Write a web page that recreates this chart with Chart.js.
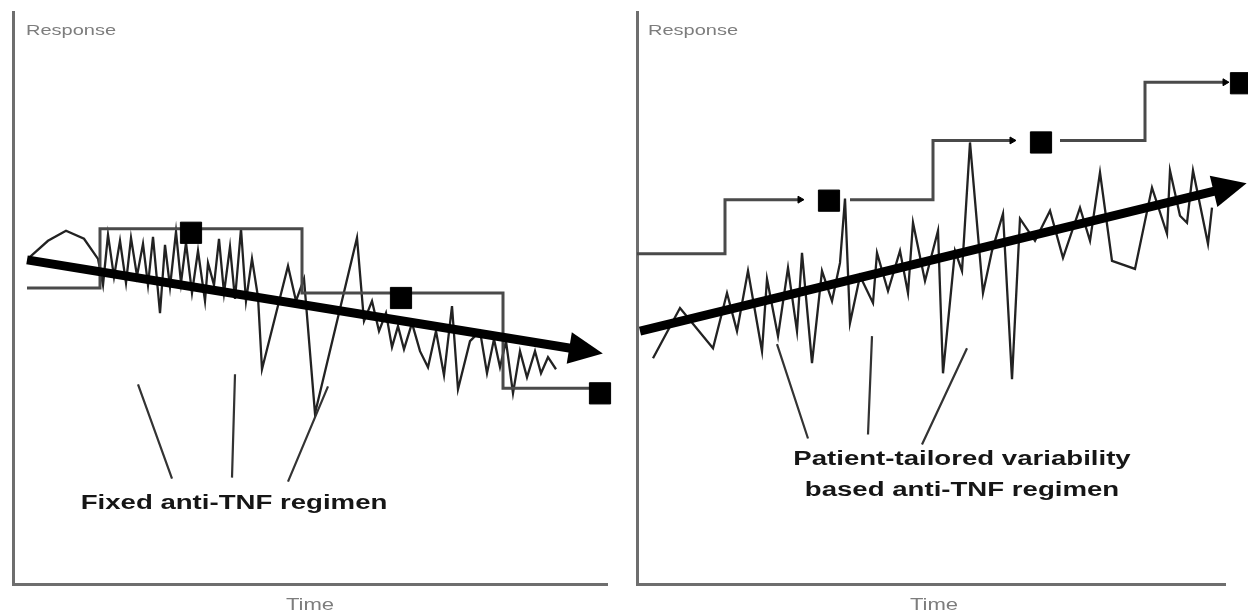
<!DOCTYPE html>
<html lang="en">
<head>
  <meta charset="UTF-8" />
  <title>Fixed vs patient-tailored anti-TNF regimen</title>
  <script src="https://cdn.jsdelivr.net/npm/chart.js"></script>
  <style>
    html, body { margin: 0; padding: 0; background: #fff; }
    .wrap { display: flex; width: 1248px; height: 613px; }
    canvas { display: block; }
  </style>
</head>
<body>
<div class="wrap">
  <canvas id="fixedChart" width="624" height="613"></canvas>
  <canvas id="tailoredChart" width="624" height="613"></canvas>
</div>

<script>
  // --- Left panel: fixed regimen (time, response in arbitrary units) ---
  const fixedZigT = [17, 35, 53, 71, 85, 90, 95, 101, 107, 113, 118, 124, 130, 135, 140, 147, 152, 157, 163, 168,
    173, 179, 185, 192, 195, 201, 206, 211, 217, 222, 228, 233, 239, 245, 249, 275, 283, 291, 302, 344,
    351, 359, 366, 373, 379, 385, 391, 399, 407, 415, 423, 431, 439, 445, 457, 467, 474, 481, 487, 493,
    500, 507, 514, 522, 528, 535, 543];
  const fixedZigR = [326, 342, 352, 344, 324, 298, 348, 306, 342, 300, 345, 307, 339, 298, 346, 270, 338, 296, 351, 300,
    340, 290, 332, 282, 320, 298, 344, 290, 336, 284, 354, 282, 324, 286, 214, 317, 282, 304, 170, 345,
    262, 282, 252, 270, 236, 257, 234, 260, 232, 216, 252, 208, 277, 194, 242, 252, 210, 244, 216, 242,
    190, 232, 206, 232, 210, 226, 214];
  const fixedStepT = [14, 87, 87, 289, 289, 490, 490, 577];
  const fixedStepR = [295, 295, 354, 354, 290, 290, 195, 195];
  const fixedDoseT = [178, 388, 587];
  const fixedDoseR = [350, 285, 190];
  const fixedTrendT = [14, 576];
  const fixedTrendR = [323, 232];
  const fixedPointerT = [159, 125, null, 219, 222, null, 275, 315];
  const fixedPointerR = [105, 199, null, 106, 209, null, 102, 197];

  // --- Right panel: patient-tailored regimen ---
  const tailoredZigT = [16, 43, 76, 90, 100, 111, 125, 130, 141, 151, 160, 165, 175, 185, 195, 203, 208, 213, 223, 236,
    240, 251, 263, 271, 276, 288, 301, 306, 318, 325, 333, 346, 355, 366, 375, 383, 398, 413, 426, 443,
    453, 463, 475, 498, 515, 530, 533, 543, 550, 556, 571, 575];
  const tailoredZigR = [225, 275, 235, 290, 252, 312, 232, 304, 247, 315, 252, 330, 220, 312, 282, 320, 384, 260, 307, 280,
    330, 292, 332, 290, 360, 302, 352, 210, 332, 312, 440, 290, 332, 369, 204, 364, 342, 372, 325, 375,
    342, 410, 322, 314, 395, 349, 412, 367, 360, 412, 339, 375];
  const tailoredStepT = [0, 88, 88, 163, null, 213, 296, 296, 375, null, 423, 508, 508, 588];
  const tailoredStepR = [329, 329, 383, 383, null, 383, 383, 442, 442, null, 442, 442, 500, 500];
  const tailoredStepTipT = [163, 375, 588];
  const tailoredStepTipR = [383, 442, 500];
  const tailoredDoseT = [192, 404, 604];
  const tailoredDoseR = [382, 440, 499];
  const tailoredTrendT = [3, 596];
  const tailoredTrendR = [252, 396];
  const tailoredPointerT = [171, 140, null, 231, 235, null, 285, 330];
  const tailoredPointerR = [145, 239, null, 149, 247, null, 139, 235];

  const FONT = '"Liberation Sans", Arial, sans-serif';

  function pts(ts, rs) {
    return ts.map((t, i) => ({ x: t, y: rs[i] }));
  }

  // thick trend arrow head, drawn at the end of datasets flagged with arrow
  const arrowHead = {
    id: "arrowHead",
    afterDatasetsDraw(chart) {
      const ctx = chart.ctx;
      chart.data.datasets.forEach((ds, i) => {
        if (!ds.arrow) return;
        const pts = chart.getDatasetMeta(i).data;
        const a = pts[0], b = pts[pts.length - 1];
        const ang = Math.atan2(b.y - a.y, b.x - a.x);
        const dx = Math.cos(ang), dy = Math.sin(ang);
        const tipX = b.x + dx * 14, tipY = b.y + dy * 14;
        const baseX = b.x - dx * 20, baseY = b.y - dy * 20;
        ctx.save();
        ctx.fillStyle = "#000";
        ctx.beginPath();
        ctx.moveTo(tipX, tipY);
        ctx.lineTo(baseX - dy * 16, baseY + dx * 16);
        ctx.lineTo(baseX + dy * 16, baseY - dx * 16);
        ctx.closePath();
        ctx.fill();
        ctx.restore();
      });
    }
  };

  // texts placed in data units; the source picture is stretched sideways
  const textLabels = {
    id: "textLabels",
    afterDraw(chart, args, opts) {
      const ctx = chart.ctx;
      const xs = chart.scales.x, ys = chart.scales.y;
      (opts.items || []).forEach(it => {
        ctx.save();
        ctx.translate(xs.getPixelForValue(it.t), ys.getPixelForValue(it.r));
        ctx.scale(1.38, 1);
        ctx.font = `${it.weight || "normal"} ${it.size}px ${FONT}`;
        ctx.fillStyle = it.color;
        ctx.textAlign = it.align || "center";
        ctx.textBaseline = "middle";
        ctx.fillText(it.text, 0, 0);
        ctx.restore();
      });
    }
  };

  function makeChart(id, p) {
    const datasets = [
      { data: pts(p.zigT, p.zigR), borderColor: "#222", borderWidth: 2.3, pointRadius: 0, clip: false, order: 4 },
      { data: pts(p.stepT, p.stepR), borderColor: "#4a4a4a", borderWidth: 3, pointRadius: 0, clip: false, order: 3 },
      { data: pts(p.pointerT, p.pointerR), borderColor: "#333", borderWidth: 2.2, pointRadius: 0, clip: false, order: 3 },
      { data: pts(p.trendT, p.trendR), borderColor: "#000", borderWidth: 9, pointRadius: 0, clip: false, arrow: true, order: 2 },
      // hover radius only widens the area check so the edge square is still drawn
      { data: pts(p.doseT, p.doseR), showLine: false, pointStyle: "rect", pointRadius: 15, pointHoverRadius: 24,
        backgroundColor: "#000", borderColor: "#000", borderWidth: 1, clip: false, order: 1 }
    ];
    if (p.tipT) {
      datasets.push({ data: pts(p.tipT, p.tipR), showLine: false, pointStyle: "triangle", pointRotation: 90,
        pointRadius: 4, pointHoverRadius: 10, backgroundColor: "#000", borderColor: "#000", clip: false, order: 1 });
    }
    return new Chart(document.getElementById(id), {
      type: "line",
      data: { datasets },
      options: {
        responsive: false,
        animation: false,
        devicePixelRatio: 1,
        events: [],
        layout: { autoPadding: false, padding: { left: 13, top: 12, right: p.padRight, bottom: 29 } },
        elements: { line: { tension: 0, fill: false } },
        plugins: { legend: { display: false }, tooltip: { enabled: false }, textLabels: { items: p.labels } },
        scales: {
          x: {
            type: "linear", min: 0, max: p.xMax,
            ticks: { display: false },
            grid: { display: false, drawTicks: false },
            border: { display: true, color: "#6e6e6e", width: 3 }
          },
          y: {
            type: "linear", min: 0, max: 570,
            ticks: { display: false },
            grid: { display: false, drawTicks: false },
            border: { display: true, color: "#6e6e6e", width: 3 }
          }
        }
      },
      plugins: [arrowHead, textLabels]
    });
  }

  makeChart("fixedChart", {
    zigT: fixedZigT, zigR: fixedZigR, stepT: fixedStepT, stepR: fixedStepR,
    doseT: fixedDoseT, doseR: fixedDoseR, trendT: fixedTrendT, trendR: fixedTrendR,
    pointerT: fixedPointerT, pointerR: fixedPointerR,
    xMax: 594, padRight: 17,
    labels: [
      { text: "Response", t: 13, r: 551, size: 14.5, color: "#7d7d7d", align: "left" },
      { text: "Time", t: 297, r: -22, size: 16, color: "#7d7d7d" },
      { text: "Fixed anti-TNF regimen", t: 221, r: 80, size: 20, weight: "bold", color: "#161616" }
    ]
  });

  makeChart("tailoredChart", {
    zigT: tailoredZigT, zigR: tailoredZigR, stepT: tailoredStepT, stepR: tailoredStepR,
    doseT: tailoredDoseT, doseR: tailoredDoseR, trendT: tailoredTrendT, trendR: tailoredTrendR,
    pointerT: tailoredPointerT, pointerR: tailoredPointerR,
    tipT: tailoredStepTipT, tipR: tailoredStepTipR,
    xMax: 588, padRight: 23,
    labels: [
      { text: "Response", t: 11, r: 551, size: 14.5, color: "#7d7d7d", align: "left" },
      { text: "Time", t: 297, r: -22, size: 16, color: "#7d7d7d" },
      { text: "Patient-tailored variability", t: 325, r: 124, size: 20, weight: "bold", color: "#161616" },
      { text: "based anti-TNF regimen", t: 325, r: 93, size: 20, weight: "bold", color: "#161616" }
    ]
  });
</script>
</body>
</html>
